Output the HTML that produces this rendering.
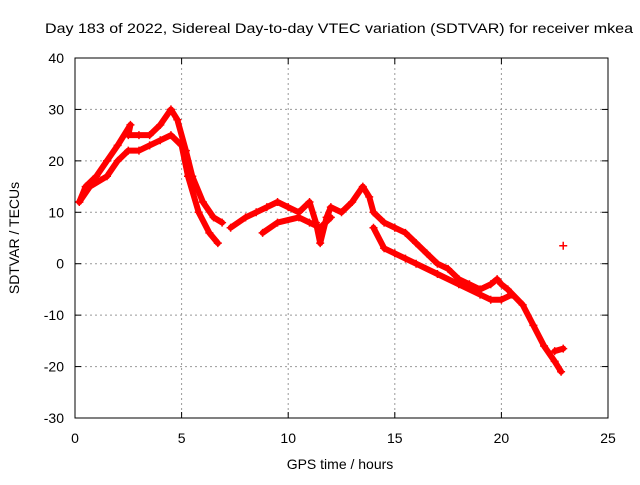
<!DOCTYPE html>
<html><head><meta charset="utf-8"><style>
body{margin:0;background:#fff;}
svg text{font-family:"Liberation Sans",sans-serif;font-size:14px;fill:#000;}
</style></head><body>
<svg width="640" height="480" id="chart">
<text x="45" y="33" textLength="588" lengthAdjust="spacingAndGlyphs">Day 183 of 2022, Sidereal Day-to-day VTEC variation (SDTVAR) for receiver mkea</text>
<text x="340" y="469" text-anchor="middle">GPS time / hours</text>
<text transform="translate(19,238) rotate(-90)" text-anchor="middle">SDTVAR / TECUs</text>
<g id="grid"></g><g id="ticks"></g><g id="data"></g>
<rect x="75" y="58" width="533" height="360" fill="none" stroke="#000"/>
</svg>
<script>
const xTicks=[0,5,10,15,20,25];
const yTicks=[40,30,20,10,0,-10,-20,-30];
const trackUpper=[[0.2,12],[0.5,15],[1,17],[1.5,20],[2,23],[2.6,27],[2.5,25],[3,25],[3.5,25],[4,27],[4.5,30],[4.8,28],[5.2,22],[5.5,17],[6,12],[6.5,9],[6.9,8]];
const trackLower=[[0.2,12],[0.7,15],[1.5,17],[2,20],[2.5,22],[3,22],[3.5,23],[4,24],[4.5,25],[5,23],[5.3,17],[5.8,10],[6.3,6],[6.7,4]];
const trackMain=[[7.3,7],[8,9],[8.5,10],[9,11],[9.5,12],[10,11],[10.5,10],[11,12],[11.3,8],[11.5,4],[11.8,9],[12,11],[12.5,10],[13,12],[13.5,15],[13.8,13],[14,10],[14.5,8],[15,7],[15.5,6],[16,4],[16.5,2],[17,0],[17.5,-1],[18,-3],[18.5,-4],[19,-5],[19.5,-4],[19.8,-3],[20,-4],[20.3,-5],[21,-8],[21.5,-12],[22,-16],[22.5,-19],[22.8,-21]];
const trackBranch=[[14,7],[14.5,3],[15,2],[15.5,1],[16,0],[17,-2],[18,-4],[19,-6],[19.5,-7],[20,-7],[20.5,-6]];
const trackMid2=[[8.8,6],[9.5,8],[10.5,9],[11,8],[11.5,7],[12,9]];
const trackEnd=[[22.5,-17],[22.9,-16.5]];
const outliers=[[22.9,3.5]];
const X=v=>75+v*533/25, Y=v=>58+(40-v)*360/70;
const ns="http://www.w3.org/2000/svg";
const g=document.getElementById('grid'),t=document.getElementById('ticks'),d=document.getElementById('data');
function mk(tag,a,p){const e=document.createElementNS(ns,tag);for(const k in a)e.setAttribute(k,a[k]);p.appendChild(e);return e;}
xTicks.forEach(v=>{const x=X(v);
 if(v>0&&v<25){const l=mk('line',{x1:x,x2:x,y1:58,y2:418,stroke:'#999','stroke-dasharray':'2,3'},g);}
 mk('line',{x1:x,x2:x,y1:418,y2:412,stroke:'#000'},t);mk('line',{x1:x,x2:x,y1:58,y2:64,stroke:'#000'},t);
 const tx=mk('text',{x:x,y:443,'text-anchor':'middle'},t);tx.textContent=v;
 });
yTicks.forEach(v=>{const y=Y(v);
 if(v<40&&v>-30){const l=mk('line',{x1:75,x2:608,y1:y,y2:y,stroke:'#999','stroke-dasharray':'2,3'},g);}
 mk('line',{x1:75,x2:81,y1:y,y2:y,stroke:'#000'},t);mk('line',{x1:608,x2:602,y1:y,y2:y,stroke:'#000'},t);
 const tx=mk('text',{x:64,y:y+5,'text-anchor':'end'},t);tx.textContent=v;
 });
function track(arr,name){
 if(arr.length>1){const p=mk('polyline',{points:arr.map(q=>X(q[0])+','+Y(q[1])).join(' '),fill:'none',stroke:'#f00','stroke-width':6,'stroke-linejoin':'round','stroke-linecap':'round'},d);
 }
 arr.forEach(q=>{const x=X(q[0]),y=Y(q[1]);
  const m=mk('path',{d:`M${x-4},${y}H${x+4}M${x},${y-4}V${y+4}`,stroke:'#f00','stroke-width':1.5},d);
  });
}
track(trackUpper,'series-upper-track');track(trackLower,'series-lower-track');track(trackMain,'series-main-track');
track(trackBranch,'series-branch-track');track(trackMid2,'series-mid-track');track(trackEnd,'series-end-track');track(outliers,'series-outlier');
</script>
</body></html>
